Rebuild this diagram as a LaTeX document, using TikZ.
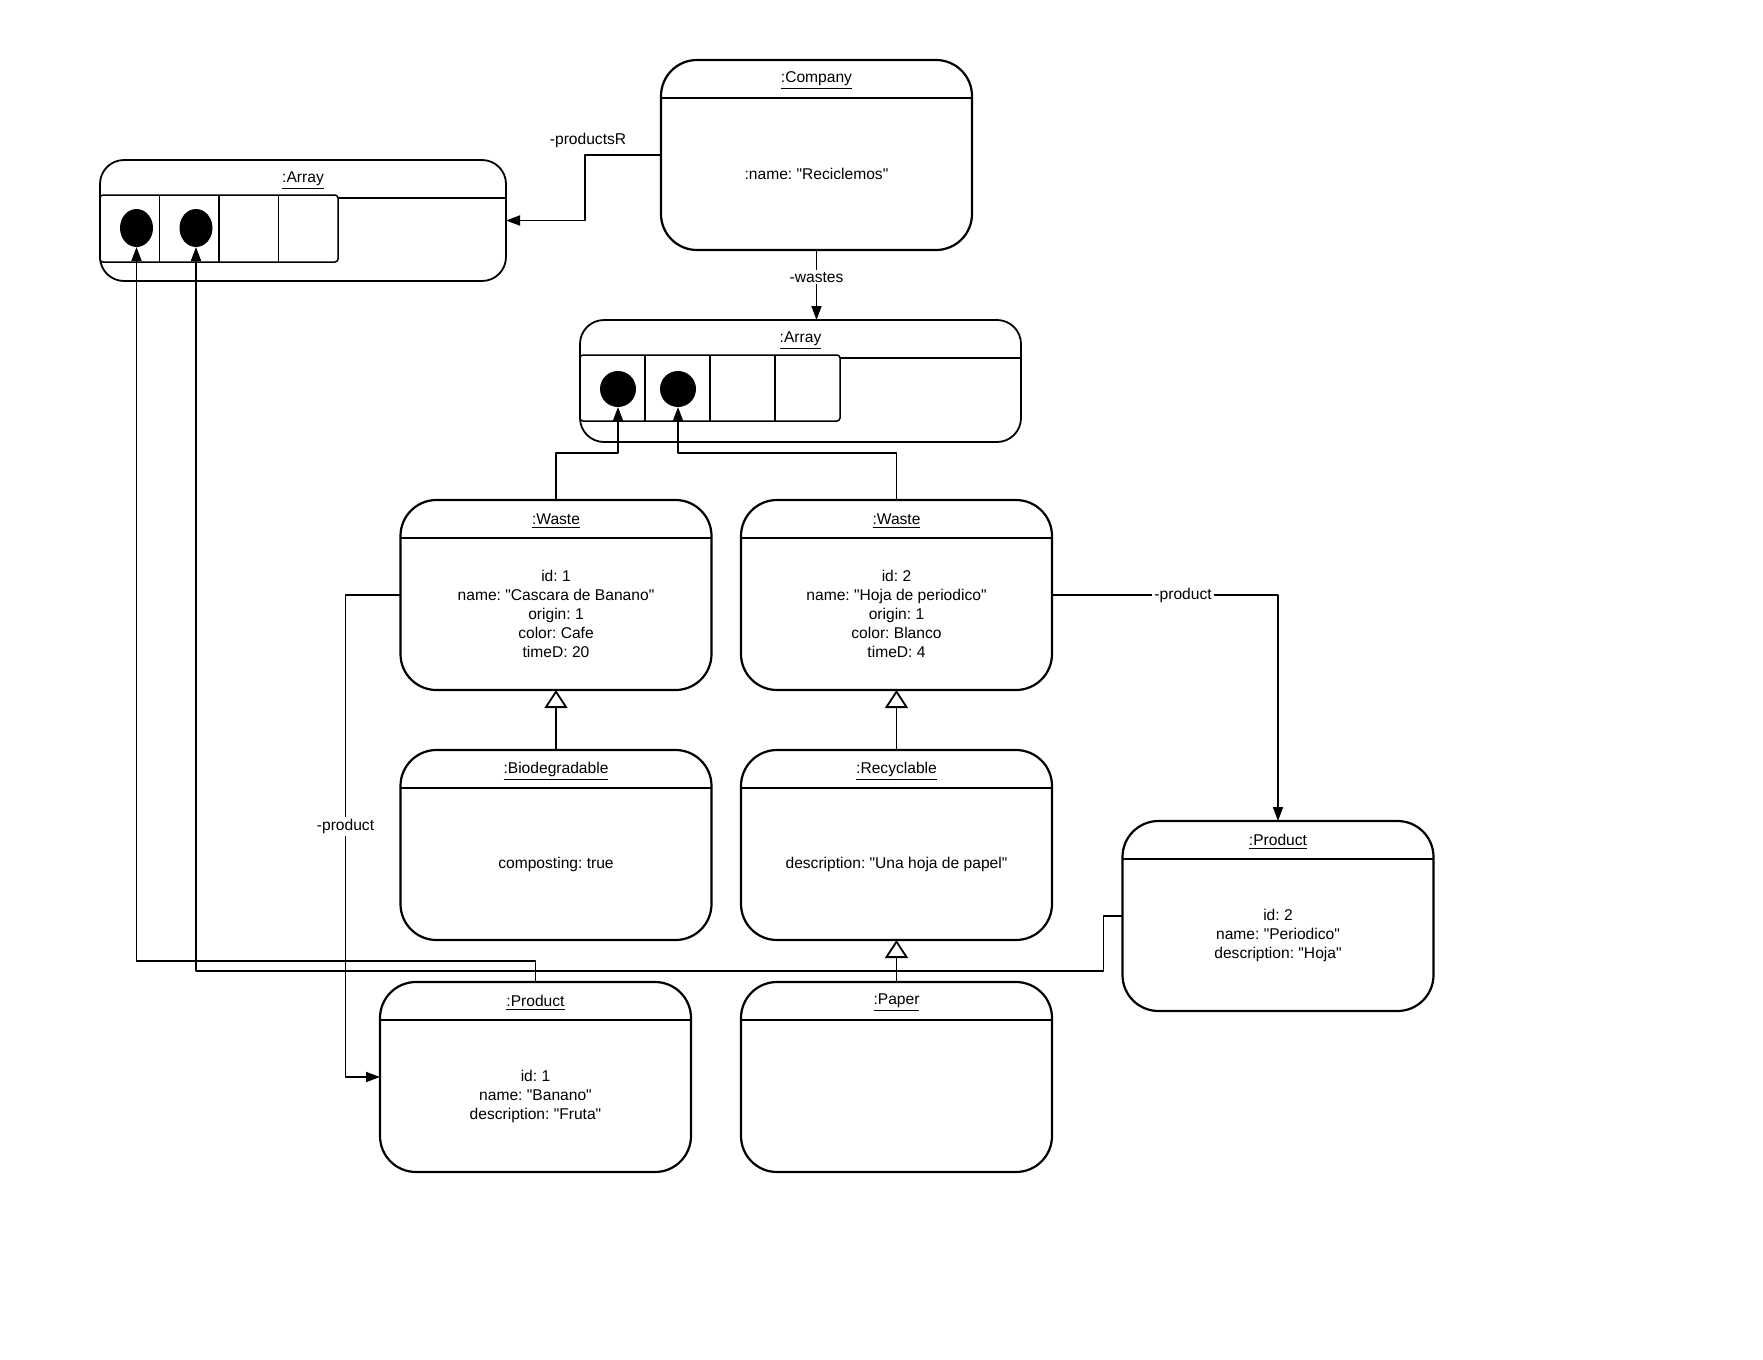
\documentclass[tikz,border=0pt]{standalone}
\usepackage{fontspec}
\setmainfont{Liberation Sans}[Ligatures=TeXOff]
\usetikzlibrary{arrows.meta,positioning,shapes.geometric}
\frenchspacing
\begin{document}
\begin{tikzpicture}[x=0.5pt,y=-0.5pt,line join=round,
	font=\fontsize{7.8pt}{9.5pt}\selectfont,
	obj/.style={draw,line width=1.1pt,rounded corners=18pt,outer sep=0pt,
		minimum width=155.5pt,minimum height=95pt},
	arr/.style={draw,line width=0.9pt,rounded corners=12pt,outer sep=0pt},
	hdr/.style={line width=1.1pt},
	cell/.style={draw,fill=white,line width=0.75pt},
	dot/.style={ellipse,fill=black,inner sep=0pt,outer sep=0pt},
	conn/.style={line width=0.9pt,-{Triangle[length=7pt,width=5pt]}},
	gen/.style={line width=0.9pt,-{Triangle[open,length=9pt,width=11.5pt]}},
	lab/.style={fill=white,inner sep=1pt}]
	\useasboundingbox (0,0) rectangle (1763,1360);
	%Các đối tượng
	\foreach \n/\x/\y/\t in {Co/816.5/155/Company,W1/556/595/Waste,W2/896.5/595/Waste,
		Bio/556/845/Biodegradable,Rec/896.5/845/Recyclable,Pap/896.5/1077/Paper,
		Pr1/535.5/1077/Product,Pr2/1278/916/Product}{
		\node[obj] (\n) at (\x,\y) {};
		\draw[hdr] ([yshift=-19pt]\n.north west)--([yshift=-19pt]\n.north east);
		\node at ([yshift=-10.5pt]\n.north) {\underline{:\t}};}
	\node[align=center] at ([yshift=-9.5pt]Co.center) {:name: "Reciclemos"};
	\node[align=center] at ([yshift=-9.5pt]W1.center) {id: 1\\name: "Cascara de Banano"\\origin: 1\\color: Cafe\\timeD: 20};
	\node[align=center] at ([yshift=-9.5pt]W2.center) {id: 2\\name: "Hoja de periodico"\\origin: 1\\color: Blanco\\timeD: 4};
	\node[align=center] at ([yshift=-9.5pt]Bio.center) {composting: true};
	\node[align=center] at ([yshift=-9.5pt]Rec.center) {description: "Una hoja de papel"};
	\node[align=center] at ([yshift=-9.5pt]Pr1.center) {id: 1\\name: "Banano"\\description: "Fruta"};
	\node[align=center] at ([yshift=-9.5pt]Pr2.center) {id: 2\\name: "Periodico"\\description: "Hoja"};
	%Hai mảng
	\node[arr,minimum width=203pt,minimum height=60.5pt] (Ar1) at (303,220.5) {};
	\node[arr,minimum width=220.5pt,minimum height=61pt] (Ar2) at (800.5,381) {};
	\foreach \a in {Ar1,Ar2}{
		\draw[line width=0.9pt] ([yshift=-19pt]\a.north west)--([yshift=-19pt]\a.north east);
		\node at ([yshift=-10.5pt]\a.north) {\underline{:Array}};}
	\draw[cell,rounded corners=1.5pt] (100,195) rectangle (338,262);
	\foreach \i in {1,2,3} \draw[line width=0.75pt] (100+59.5*\i,195)--(100+59.5*\i,262);
	\draw[cell,rounded corners=1.5pt] (580,355) rectangle (840,421);
	\foreach \i in {1,2,3} \draw[line width=0.75pt] (580+65*\i,355)--(580+65*\i,421);
	\node[dot,minimum width=16.5pt,minimum height=19pt] (Ar1a) at (136.5,228) {};
	\node[dot,minimum width=16.5pt,minimum height=19pt] (Ar1b) at (196,228) {};
	\node[dot,minimum width=18pt,minimum height=18pt] (Ar2a) at (618,389) {};
	\node[dot,minimum width=18pt,minimum height=18pt] (Ar2b) at (678,389) {};
	%Liên kết
	\draw[conn] (Co.west)--node[above,pos=0.96]{-productsR} ++(-76,0) |- (Ar1.east);
	\draw[conn] (Co.south)--node[lab,pos=0.39]{-wastes} (Co.south|-Ar2.north);
	\draw[conn] (W1.north)--++(0,-47) -| (Ar2a.south);
	\draw[conn] (W2.north)--++(0,-47) -| (Ar2b.south);
	\draw[conn] (W1.west)--++(-55,0) |- node[lab,pos=0.24]{-product} (Pr1.west);
	\draw[conn] (W2.east) -| node[lab,pos=0.29]{-product} (Pr2.north);
	\draw[conn] (Pr1.north)--++(0,-21) -| (Ar1a.south);
	\draw[conn] (Pr2.west)--++(-19,0)--++(0,55) -| (Ar1b.south);
	%Kế thừa
	\draw[gen] (Bio.north)--(W1.south);
	\draw[gen] (Rec.north)--(W2.south);
	\draw[gen] (Pap.north)--(Rec.south);
\end{tikzpicture}
\end{document}
